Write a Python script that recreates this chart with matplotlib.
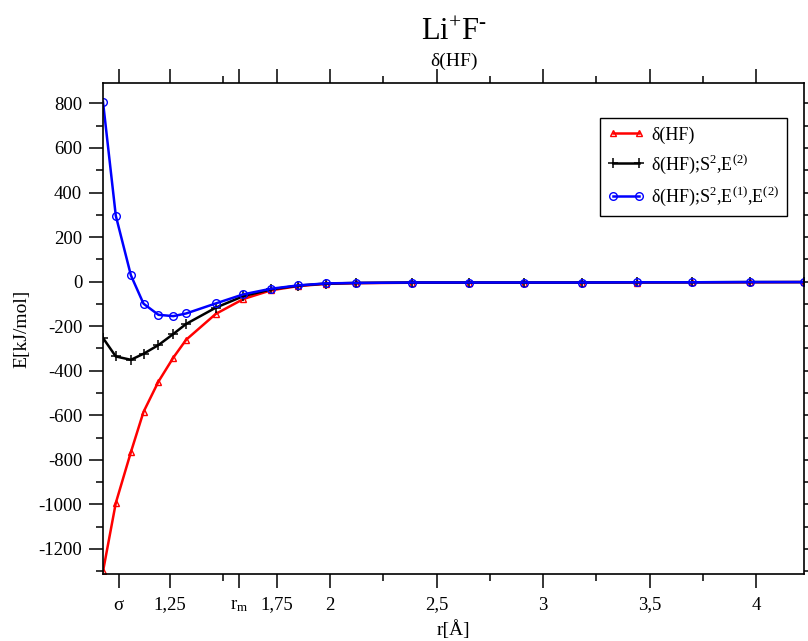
import numpy as np
import matplotlib
matplotlib.use('Agg')
import matplotlib.pyplot as plt

plt.rcParams['font.family'] = ['Liberation Serif', 'DejaVu Serif']
plt.rcParams['mathtext.fontset'] = 'custom'
plt.rcParams['mathtext.rm'] = 'Liberation Serif'
plt.rcParams['mathtext.it'] = 'Liberation Serif:italic'
plt.rcParams['axes.unicode_minus'] = False

# distances r [A]
r = [0.935, 0.995, 1.066, 1.125, 1.195, 1.265, 1.325, 1.464, 1.594, 1.723,
     1.851, 1.981, 2.12, 2.383, 2.65, 2.91, 3.18, 3.44, 3.70, 3.97, 4.225]

# energies [kJ/mol]
e_hf = [-1301, -994, -765, -585, -449, -341, -261, -145, -78, -39,
        -20, -10, -7, -5, -5, -5, -4, -4, -3, -3, -2]
e_hf_s2_e2 = [-253, -336, -351, -324, -285, -235, -190, -117, -65, -35,
              -18, -9, -6, -4, -4, -4, -4, -3, -3, -2, -2]
e_hf_s2_e1_e2 = [807, 296, 28, -99, -149, -155, -143, -98, -57, -32,
                 -17, -8, -6, -4, -4, -4, -4, -3, -3, -2, -2]

labels = [r'δ(HF)', r'δ(HF);S$^{2}$,E$^{(2)}$', r'δ(HF);S$^{2}$,E$^{(1)}$,E$^{(2)}$']

sigma = 1.008
r_m = 1.575
xmajor = [sigma, 1.25, r_m, 1.75, 2.0, 2.5, 3.0, 3.5, 4.0]
xmajor_labels = ['σ', '1,25', r'r$_{\mathrm{m}}$', '1,75', '2', '2,5', '3', '3,5', '4']
xminor = [1.5, 2.25, 2.75, 3.25, 3.75]

fig = plt.figure(figsize=(8.08, 6.41), dpi=100)
ax = fig.add_axes([103/808, 1 - 574.3/641, (804.3 - 103)/808, (574.3 - 82.7)/641])

ax.plot(r, e_hf, color='red', lw=1.8, marker='^', ms=5, mfc='none', mec='red', mew=1.0, label=labels[0])
ax.plot(r, e_hf_s2_e2, color='black', lw=1.8, marker='+', ms=6.5, mew=1.1, label=labels[1])
ax.plot(r, e_hf_s2_e1_e2, color='blue', lw=1.8, marker='o', ms=5.5, mfc='none', mec='blue', mew=1.0, label=labels[2])

ax.set_xlim(0.935, 4.225)
ax.set_ylim(-1314, 893)

ax.set_xticks(xmajor)
ax.set_xticklabels(xmajor_labels)
ax.set_xticks(xminor, minor=True)
ax.set_yticks(np.arange(-1200, 801, 200))
ax.set_yticks(np.arange(-1300, 801, 100), minor=True)

ax.tick_params(which='both', direction='out', top=True, right=True, width=1.1,
               labelsize=13.5, colors='black')
ax.tick_params(which='major', length=10)
ax.tick_params(which='minor', length=5)
ax.tick_params(axis='x', pad=6)
ax.tick_params(axis='y', pad=5)
for s in ax.spines.values():
    s.set_linewidth(1.2)

ax.set_xlabel('r[Å]', fontsize=14, labelpad=5)
ax.set_ylabel('E[kJ/mol]', fontsize=14, labelpad=6)

fig.text(0.5618, 1 - 33/641, r'Li$^{+}$F$^{\text{-}}$', fontsize=22, ha='center', va='center')
fig.text(0.5618, 1 - 61/641, 'δ(HF)', fontsize=14, ha='center', va='center')

leg = ax.legend(loc='upper right', bbox_to_anchor=(0.976, 0.928), fontsize=13,
                numpoints=2, handlelength=2.0, fancybox=False, framealpha=1,
                edgecolor='black', borderpad=0.45, labelspacing=0.5, handletextpad=0.4,
                borderaxespad=0)
leg.get_frame().set_linewidth(1.0)

fig.savefig('out.png', dpi=100)
